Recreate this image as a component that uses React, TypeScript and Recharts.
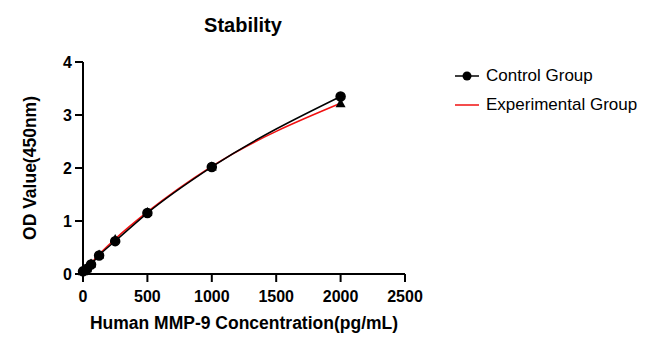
import {LineChart, Line, XAxis, YAxis} from 'recharts';

const concentrations = [0, 31.25, 62.5, 125, 250, 500, 1000, 2000];
const controlOD = [0.05, 0.1, 0.18, 0.35, 0.62, 1.15, 2.02, 3.35];
const experimentalOD = [0.05, 0.11, 0.2, 0.37, 0.66, 1.17, 2.03, 3.22];
const xTicks = [0, 500, 1000, 1500, 2000, 2500];
const yTicks = [0, 1, 2, 3, 4];

const data = concentrations.map((c, i) => ({
    conc: c,
    control: controlOD[i],
    experimental: experimentalOD[i],
}));

const FONT = '"Liberation Sans", Arial, sans-serif';
const RED = '#f01010';

function Triangle(props: any) {
    const {cx, cy} = props;
    if (cx == null || cy == null) return null;
    const s = 5;
    return (
        <polygon
            key={`tri-${cx}`}
            points={`${cx},${cy - s} ${cx - s},${cy + s * 0.8} ${cx + s},${cy + s * 0.8}`}
            fill="#000"
        />
    );
}

function LegendBox() {
    const row = (label: string, color: string, marker: boolean) => (
        <div style={{display: 'flex', alignItems: 'center', height: 29}}>
            <svg width={35} height={12}>
                <line x1={4} y1={6} x2={28} y2={6} stroke={color} strokeWidth={1.5} />
                {marker && <circle cx={16} cy={6} r={4.5} fill="#000" />}
            </svg>
            <span style={{fontSize: 17, color: '#000'}}>{label}</span>
        </div>
    );
    return (
        <div style={{position: 'absolute', left: 451, top: 61, fontFamily: FONT}}>
            {row('Control Group', '#000', true)}
            {row('Experimental Group', RED, false)}
        </div>
    );
}

const tickStyle = {fill: '#000', fontSize: 16, fontWeight: 'bold', fontFamily: FONT};

export default function App() {
    return (
        <div style={{position: 'absolute', left: 0, top: 0, width: 654, height: 350, background: '#fff'}}>
            <div
                style={{
                    position: 'absolute',
                    left: 0,
                    width: 486,
                    top: 14,
                    textAlign: 'center',
                    fontFamily: FONT,
                    fontWeight: 'bold',
                    fontSize: 20,
                }}
            >
                Stability
            </div>
            <LegendBox />
            <LineChart
                width={654}
                height={350}
                data={data}
                margin={{top: 62, right: 249, left: 43, bottom: 16}}
            >
                <XAxis
                    dataKey="conc"
                    type="number"
                    domain={[0, 2500]}
                    ticks={xTicks}
                    height={60}
                    tickSize={8}
                    tickMargin={9}
                    axisLine={{stroke: '#000', strokeWidth: 2}}
                    tickLine={{stroke: '#000', strokeWidth: 2}}
                    tick={tickStyle}
                    label={{
                        value: 'Human MMP-9 Concentration(pg/mL)',
                        position: 'insideBottom',
                        offset: 5,
                        fill: '#000',
                        fontSize: 17.5,
                        fontWeight: 'bold',
                        fontFamily: FONT,
                    }}
                />
                <YAxis
                    type="number"
                    domain={[0, 4]}
                    ticks={yTicks}
                    width={40}
                    tickSize={8}
                    tickMargin={3}
                    axisLine={{stroke: '#000', strokeWidth: 2}}
                    tickLine={{stroke: '#000', strokeWidth: 2}}
                    tick={tickStyle}
                    label={{
                        content: ({viewBox}: any) => {
                            const cy = viewBox.y + viewBox.height / 2;
                            const cx = 30;
                            return (
                                <text
                                    x={cx}
                                    y={cy}
                                    transform={`rotate(-90, ${cx}, ${cy})`}
                                    textAnchor="middle"
                                    dominantBaseline="central"
                                    fontSize={17.5}
                                    fontWeight="bold"
                                    fontFamily={FONT}
                                    fill="#000"
                                >
                                    OD Value(450nm)
                                </text>
                            );
                        },
                    }}
                />
                <Line
                    dataKey="experimental"
                    name="Experimental Group"
                    type="monotone"
                    stroke={RED}
                    strokeWidth={1.6}
                    dot={<Triangle />}
                    isAnimationActive={false}
                />
                <Line
                    dataKey="control"
                    name="Control Group"
                    type="monotone"
                    stroke="#000"
                    strokeWidth={1.5}
                    dot={{r: 4.5, fill: '#000', stroke: '#000'}}
                    isAnimationActive={false}
                />
            </LineChart>
        </div>
    );
}
